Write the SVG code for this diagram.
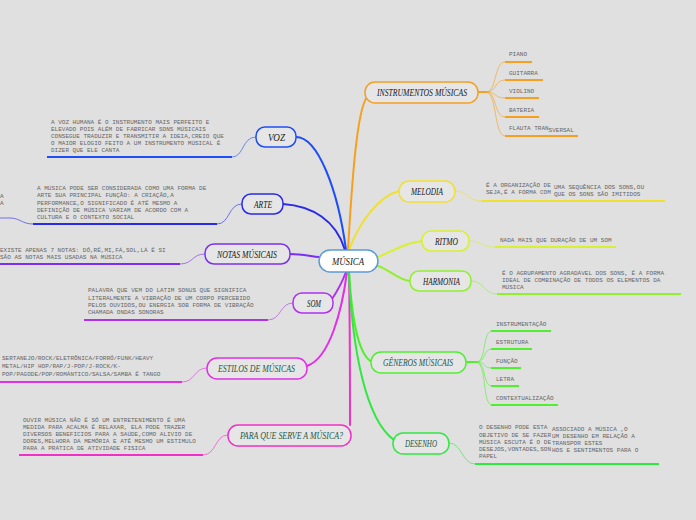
<svg xmlns="http://www.w3.org/2000/svg" width="696" height="520" viewBox="0 0 696 520">
<style>
.desc{font-family:"Liberation Mono",monospace;font-size:6px;fill:#666}
.lbl{font-family:"Liberation Serif",serif;font-style:italic;font-size:9.5px;fill:#1a1a1a}
.gr{fill:#1d5a48}
.nd{fill:#e6e6e6;stroke-width:1.5}
.br{fill:none;stroke-width:2;stroke-linecap:round}
.sub{fill:none;stroke-width:1;opacity:.6}
.ul{stroke-width:2}
</style>
<rect width="696" height="520" fill="#e0e0e0"/>
<g id="connectors">
<path class="br" stroke="#f5a020" d="M348,250 C352,180 357,110 367,97"/>
<path class="br" stroke="#1f4ef5" d="M296,137 C318,137 338,190 346,250"/>
<path class="br" stroke="#2a2ae8" d="M283,204 C312,206 336,220 345,250"/>
<path class="br" stroke="#7b2ff0" d="M290,254 C300,254 310,256 319,257"/>
<path class="br" stroke="#b030f0" d="M332,299 C338,290 343,280 346,272"/>
<path class="br" stroke="#e030e8" d="M307,366 C330,358 342,310 347,272"/>
<path class="br" stroke="#f030c8" d="M349,272 C350,330 350,380 350,425"/>
<path class="br" stroke="#50f030" d="M349,272 C352,320 358,355 372,362"/>
<path class="br" stroke="#30e840" d="M349,272 C352,350 366,420 394,440"/>
<path class="br" stroke="#f0e030" d="M349,250 C360,220 380,196 399,191"/>
<path class="br" stroke="#d8f030" d="M378,257 C395,250 408,242 422,241"/>
<path class="br" stroke="#90f030" d="M378,266 C390,270 398,280 410,281"/>
<path class="sub" stroke="#1f4ef5" d="M256,137 C242,137 244,157 232,157"/>
<path class="sub" stroke="#2a2ae8" d="M242,204 C228,204 230,224 217,224"/>
<path class="sub" stroke="#2a2ae8" d="M0,218 L10,218 C20,218 22,224 33,224"/>
<path class="sub" stroke="#7b2ff0" d="M205,254 C192,254 193,264 180,264"/>
<path class="sub" stroke="#b030f0" d="M293,303 C280,303 281,320 268,320"/>
<path class="sub" stroke="#e030e8" d="M207,368 C194,368 195,382 182,382"/>
<path class="sub" stroke="#f030c8" d="M228,435 C215,435 216,455 203,455"/>
<path class="sub" stroke="#f0e030" d="M455,191 C468,191 468,201 481,201"/>
<path class="sub" stroke="#d8f030" d="M469,241 C482,241 482,247 495,247"/>
<path class="sub" stroke="#90f030" d="M471,281 C484,281 484,294 497,294"/>
<path class="sub" stroke="#30e840" d="M449,443 C462,443 462,464 475,464"/>
<path class="br" stroke="#f5a020" d="M478,92 L486,92"/>
<path class="sub" stroke="#f5a020" d="M486,92 C497,92 494,62 505,62 M486,92 C497,92 494,80 505,80 M486,92 C497,92 494,98 505,98 M486,92 C497,92 494,117 505,117 M486,92 C497,92 494,136 505,136"/>
<path class="br" stroke="#50f030" d="M466,362 L476,362"/>
<path class="sub" stroke="#50f030" d="M476,362 C487,362 482,331 492,331 M476,362 C487,362 482,349 492,349 M476,362 C487,362 482,368 492,368 M476,362 C487,362 482,386 492,386 M476,362 C487,362 482,405 492,405"/>
<line class="ul" stroke="#1f4ef5" x1="47" y1="157" x2="232" y2="157"/>
<line class="ul" stroke="#2a2ae8" x1="33" y1="224" x2="217" y2="224"/>
<line class="ul" stroke="#7b2ff0" x1="0" y1="264" x2="180" y2="264"/>
<line class="ul" stroke="#b030f0" x1="84" y1="320" x2="268" y2="320"/>
<line class="ul" stroke="#e030e8" x1="0" y1="382" x2="182" y2="382"/>
<line class="ul" stroke="#f030c8" x1="19" y1="455" x2="203" y2="455"/>
<line class="ul" stroke="#f0e030" x1="481" y1="201" x2="665" y2="201"/>
<line class="ul" stroke="#d8f030" x1="495" y1="247" x2="616" y2="247"/>
<line class="ul" stroke="#90f030" x1="497" y1="294" x2="681" y2="294"/>
<line class="ul" stroke="#30e840" x1="475" y1="464" x2="659" y2="464"/>
<g stroke="#f5a020" class="ul">
<line x1="505" y1="62" x2="532" y2="62"/>
<line x1="505" y1="80" x2="543" y2="80"/>
<line x1="505" y1="98" x2="539" y2="98"/>
<line x1="505" y1="117" x2="539" y2="117"/>
<line x1="505" y1="136" x2="578" y2="136"/>
</g>
<g stroke="#50f030" class="ul">
<line x1="491" y1="331" x2="551" y2="331"/>
<line x1="491" y1="349" x2="532" y2="349"/>
<line x1="491" y1="368" x2="521" y2="368"/>
<line x1="491" y1="386" x2="519" y2="386"/>
<line x1="491" y1="405" x2="558" y2="405"/>
</g>
</g>

<g id="musica">
<rect x="319" y="250" width="59" height="22" rx="11" fill="#ffffff" stroke="#5b9bd5" stroke-width="1.5"/>
<text class="lbl" x="332" y="265" textLength="32" lengthAdjust="spacingAndGlyphs">MÚSICA</text>
</g>

<g id="instrumentos">
<rect class="nd" stroke="#f5a020" x="365" y="82" width="113" height="21" rx="10"/>
<text class="lbl" x="377" y="95.5" textLength="90" lengthAdjust="spacingAndGlyphs">INSTRUMENTOS MÚSICAS</text>
<text class="desc" x="509" y="56">PIANO</text>
<text class="desc" x="509" y="75">GUITARRA</text>
<text class="desc" x="509" y="93">VIOLINO</text>
<text class="desc" x="509" y="112">BATERIA</text>
<text class="desc" x="509" y="130">FLAUTA TRAN<tspan dy="1.5">SVERSAL</tspan></text>
</g>

<g id="voz">
<rect class="nd" stroke="#1f4ef5" x="256" y="127" width="40" height="20" rx="9"/>
<text class="lbl" x="268" y="140.5" textLength="17" lengthAdjust="spacingAndGlyphs">VOZ</text>
<text class="desc" x="51" y="124.3">A VOZ HUMANA É O INSTRUMENTO MAIS PERFEITO E</text>
<text class="desc" x="51" y="131.1">ELEVADO POIS ALÉM DE FABRICAR SONS MÚSICAIS</text>
<text class="desc" x="51" y="137.9">CONSEGUE TRADUZIR E TRANSMITIR A IDEIA,CREIO QUE</text>
<text class="desc" x="51" y="144.7">O MAIOR ELOGIO FEITO A UM INSTRUMENTO MÚSICAL É</text>
<text class="desc" x="51" y="151.5">DIZER QUE ELE CANTA</text>
</g>

<g id="arte">
<rect class="nd" stroke="#2a2ae8" x="242" y="194" width="41" height="20" rx="9"/>
<text class="lbl" x="254" y="207.5" textLength="18" lengthAdjust="spacingAndGlyphs">ARTE</text>
<text class="desc" x="37" y="190.3">A MÚSICA PODE SER CONSIDERADA COMO UMA FORMA DE</text>
<text class="desc" x="37" y="197.4">ARTE SUA PRINCIPAL FUNÇÃO: A CRIAÇÃO,A</text>
<text class="desc" x="37" y="204.5">PERFORMANCE,O SIGNIFICADO É ATÉ MESMO A</text>
<text class="desc" x="37" y="211.6">DEFINIÇÃO DE MÚSICA VARIAM DE ACORDO COM A</text>
<text class="desc" x="37" y="218.7">CULTURA E O CONTEXTO SOCIAL</text>
<text class="desc" x="0" y="197.5" font-size="4">A</text>
<text class="desc" x="0" y="204.5" font-size="4">A</text>
</g>

<g id="notas">
<rect class="nd" stroke="#7b2ff0" x="205" y="244" width="85" height="20" rx="9"/>
<text class="lbl" x="217" y="257.5" textLength="60" lengthAdjust="spacingAndGlyphs">NOTAS MÚSICAIS</text>
<text class="desc" x="0" y="252.3">EXISTE APENAS 7 NOTAS: DÓ,RÉ,MI,FÁ,SOL,LÁ É SI</text>
<text class="desc" x="0" y="259">SÃO AS NOTAS MAIS USADAS NA MÚSICA</text>
</g>

<g id="som">
<rect class="nd" stroke="#b030f0" x="293" y="293" width="40" height="20" rx="9"/>
<text class="lbl" x="307" y="306.5" textLength="14" lengthAdjust="spacingAndGlyphs">SOM</text>
<text class="desc" x="88" y="292.3">PALAVRA QUE VEM DO LATIM SONUS QUE SIGNIFICA</text>
<text class="desc" x="88" y="299.5">LITERALMENTE A VIBRAÇÃO DE UM CORPO PERCEBIDO</text>
<text class="desc" x="88" y="306.7">PELOS OUVIDOS,OU ENERGIA SOB FORMA DE VIBRAÇÃO</text>
<text class="desc" x="88" y="313.9">CHAMADA ONDAS SONORAS</text>
</g>

<g id="estilos">
<rect class="nd" stroke="#e030e8" x="207" y="358" width="100" height="21" rx="10"/>
<text class="lbl gr" x="218" y="371.5" textLength="77" lengthAdjust="spacingAndGlyphs">ESTILOS DE MÚSICAS</text>
<text class="desc" x="2" y="360.3">SERTANEJO/ROCK/ELETRÔNICA/FORRÓ/FUNK/HEAVY</text>
<text class="desc" x="2" y="368">METAL/HIP HOP/RAP/J-POP/J-ROCK/K-</text>
<text class="desc" x="2" y="375.9">POP/PAGODE/POP/ROMÂNTICO/SALSA/SAMBA É TANGO</text>
</g>

<g id="paraque">
<rect class="nd" stroke="#f030c8" x="228" y="425" width="123" height="21" rx="10"/>
<text class="lbl gr" x="240" y="438.5" textLength="103" lengthAdjust="spacingAndGlyphs">PARA QUE SERVE A MÚSICA?</text>
<text class="desc" x="23" y="422">OUVIR MÚSICA NÃO É SÓ UM ENTRETENIMENTO É UMA</text>
<text class="desc" x="23" y="429.1">MEDIDA PARA ACALMA É RELAXAR, ELA PODE TRAZER</text>
<text class="desc" x="23" y="436.2">DIVERSOS BENEFICIOS PARA A SAÚDE,COMO ALIVIO DE</text>
<text class="desc" x="23" y="443.3">DORES,MELHORA DA MEMÓRIA E ATÉ MESMO UM ESTIMULO</text>
<text class="desc" x="23" y="450.4">PARA A PRÁTICA DE ATIVIDADE FISICA</text>
</g>

<g id="melodia">
<rect class="nd" stroke="#f0e030" x="399" y="181" width="56" height="21" rx="10"/>
<text class="lbl" x="411" y="194.5" textLength="32" lengthAdjust="spacingAndGlyphs">MELODIA</text>
<text class="desc" x="486" y="187.3">É A ORGANIZAÇÃO DE</text>
<text class="desc" x="486" y="194.3">SEJA,É A FORMA COM</text>
<text class="desc" x="554" y="189.3">UMA SEQUÊNCIA DOS SONS,OU</text>
<text class="desc" x="554" y="196.3">QUE OS SONS SÃO IMITIDOS</text>
</g>

<g id="ritmo">
<rect class="nd" stroke="#d8f030" x="422" y="231" width="47" height="20" rx="9"/>
<text class="lbl" x="435" y="244.5" textLength="23" lengthAdjust="spacingAndGlyphs">RITMO</text>
<text class="desc" x="500" y="242">NADA MAIS QUE DURAÇÃO DE UM SOM</text>
</g>

<g id="harmonia">
<rect class="nd" stroke="#90f030" x="410" y="271" width="61" height="20" rx="9"/>
<text class="lbl" x="423" y="284.5" textLength="37" lengthAdjust="spacingAndGlyphs">HARMONIA</text>
<text class="desc" x="502" y="275.3">É O AGRUPAMENTO AGRADÁVEL DOS SONS, É A FORMA</text>
<text class="desc" x="502" y="282">IDEAL DE COMBINAÇÃO DE TODOS OS ELEMENTOS DA</text>
<text class="desc" x="502" y="288.7">MÚSICA</text>
</g>

<g id="generos">
<rect class="nd" stroke="#50f030" x="371" y="352" width="95" height="21" rx="10"/>
<text class="lbl gr" x="383" y="365.5" textLength="70" lengthAdjust="spacingAndGlyphs">GÊNEROS MÚSICAIS</text>
<text class="desc" x="496" y="326">INSTRUMENTAÇÃO</text>
<text class="desc" x="496" y="344.3">ESTRUTURA</text>
<text class="desc" x="496" y="362.7">FUNÇÃO</text>
<text class="desc" x="496" y="381.3">LETRA</text>
<text class="desc" x="496" y="399.7">CONTEXTUALIZAÇÃO</text>
</g>

<g id="desenho">
<rect class="nd" stroke="#30e840" x="393" y="433" width="56" height="21" rx="10"/>
<text class="lbl gr" x="405" y="446.5" textLength="32" lengthAdjust="spacingAndGlyphs">DESENHO</text>
<text class="desc" x="479" y="429.3">O DESENHO PODE ESTA</text>
<text class="desc" x="479" y="436.5">OBJETIVO DE SE FAZER</text>
<text class="desc" x="479" y="443.7">MÚSICA ESCUTA É O DE</text>
<text class="desc" x="479" y="450.9">DESEJOS,VONTADES,SON</text>
<text class="desc" x="479" y="458.1">PAPEL</text>
<text class="desc" x="552" y="431.3">ASSOCIADO A MÚSICA ,O</text>
<text class="desc" x="552" y="438.3">UM DESENHO EM RELAÇÃO A</text>
<text class="desc" x="552" y="445.3">TRANSPOR ESTES</text>
<text class="desc" x="552" y="452.3">HOS E SENTIMENTOS PARA O</text>
</g>
</svg>
